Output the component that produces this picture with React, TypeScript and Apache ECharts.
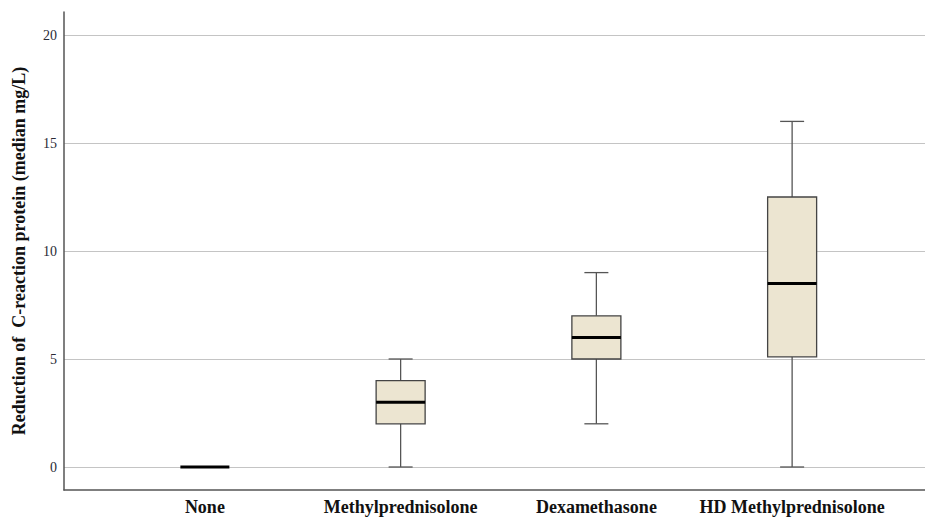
import React, { useEffect, useRef } from "react";
import * as echarts from "echarts";

const categories = ["None", "Methylprednisolone", "Dexamethasone", "HD Methylprednisolone"];
// [min, Q1, median, Q3, max]
const boxValues = [
  [0, 0, 0, 0, 0],
  [0, 2, 3, 4, 5],
  [2, 5, 6, 7, 9],
  [0, 5.1, 8.5, 12.5, 16],
];
const yTicks = [0, 5, 10, 15, 20];
const yTitle = "Reduction of  C-reaction protein (median mg/L)";

const FONT = "'Liberation Serif', 'DejaVu Serif', serif";

export default function App() {
  const ref = useRef<HTMLDivElement>(null);
  useEffect(() => {
    if (!ref.current) return;
    const chart = echarts.init(ref.current, undefined, { renderer: "svg" });
    const BOX_W = 49;
    const CAP_W = 24;
    const option: any = {
      animation: false,
      backgroundColor: "#fff",
      grid: [
        { left: 64, right: 0, top: 12, bottom: 29 },
        { left: 64, right: 0, top: 35, bottom: 52 },
        { left: 107, right: 35, top: 35, bottom: 52 },
      ],
      xAxis: [
        {
          gridIndex: 0,
          type: "value",
          min: 0,
          max: 1,
          axisLine: { show: true, onZero: false, lineStyle: { color: "#555", width: 1.5 } },
          axisTick: { show: false },
          axisLabel: { show: false },
          splitLine: { show: false },
        },
        {
          gridIndex: 1,
          type: "value",
          min: 0,
          max: 1,
          show: false,
        },
        {
          gridIndex: 2,
          type: "category",
          data: categories,
          axisLine: { show: false },
          axisTick: { show: false },
          splitLine: { show: false },
          axisLabel: {
            interval: 0,
            margin: 31,
            fontFamily: FONT,
            fontWeight: "bold",
            fontSize: 18,
            color: "#111",
          },
        },
      ],
      yAxis: [
        {
          gridIndex: 0,
          type: "value",
          min: -1.07,
          max: 21.05,
          axisLine: { show: true, onZero: false, lineStyle: { color: "#555", width: 1.5 } },
          axisTick: { show: false },
          axisLabel: { show: false },
          splitLine: { show: false },
        },
        {
          gridIndex: 1,
          type: "value",
          min: 0,
          max: 20,
          interval: 5,
          axisLine: { show: false },
          axisTick: { show: false },
          axisLabel: {
            margin: 7,
            fontFamily: FONT,
            fontSize: 14,
            color: "#2a2a35",
            customValues: yTicks,
          },
          splitLine: { show: true, lineStyle: { color: "#c4c4c4", width: 1.2 } },
          name: yTitle,
          nameLocation: "middle",
          nameGap: 36,
          nameRotate: 90,
          nameTextStyle: {
            fontFamily: FONT,
            fontWeight: "bold",
            fontSize: 18,
            color: "#111",
          },
        },
        {
          gridIndex: 2,
          type: "value",
          min: 0,
          max: 20,
          show: false,
        },
      ],
      series: [
        {
          type: "custom",
          xAxisIndex: 2,
          yAxisIndex: 2,
          data: boxValues.map((v, i) => [i, ...v]),
          encode: { x: 0, y: [1, 2, 3, 4, 5] },
          clip: false,
          renderItem: (params: any, api: any) => {
            const idx = api.value(0);
            const vals = [1, 2, 3, 4, 5].map((d) => api.value(d));
            const pts = vals.map((v) => api.coord([idx, v]));
            const cx = pts[0][0];
            const yMin = pts[0][1];
            const yQ1 = pts[1][1];
            const yMed = pts[2][1];
            const yQ3 = pts[3][1];
            const yMax = pts[4][1];
            const whisk = { stroke: "#555", lineWidth: 1.3 };
            const children: any[] = [];
            if (yMin !== yMax) {
              children.push(
                { type: "line", shape: { x1: cx, y1: yQ3, x2: cx, y2: yMax }, style: whisk },
                { type: "line", shape: { x1: cx, y1: yQ1, x2: cx, y2: yMin }, style: whisk },
                { type: "line", shape: { x1: cx - CAP_W / 2, y1: yMax, x2: cx + CAP_W / 2, y2: yMax }, style: whisk },
                { type: "line", shape: { x1: cx - CAP_W / 2, y1: yMin, x2: cx + CAP_W / 2, y2: yMin }, style: whisk },
                {
                  type: "rect",
                  shape: { x: cx - BOX_W / 2, y: yQ3, width: BOX_W, height: yQ1 - yQ3 },
                  style: { fill: "#ece5d1", stroke: "#444", lineWidth: 1.3 },
                }
              );
            }
            children.push({
              type: "line",
              shape: { x1: cx - BOX_W / 2, y1: yMed, x2: cx + BOX_W / 2, y2: yMed },
              style: { stroke: "#000", lineWidth: 3 },
            });
            return { type: "group", children };
          },
        },
      ],
    };
    chart.setOption(option);
    return () => chart.dispose();
  }, []);
  return <div ref={ref} style={{ width: 925, height: 519, position: "absolute", left: 0, top: 0 }} />;
}
